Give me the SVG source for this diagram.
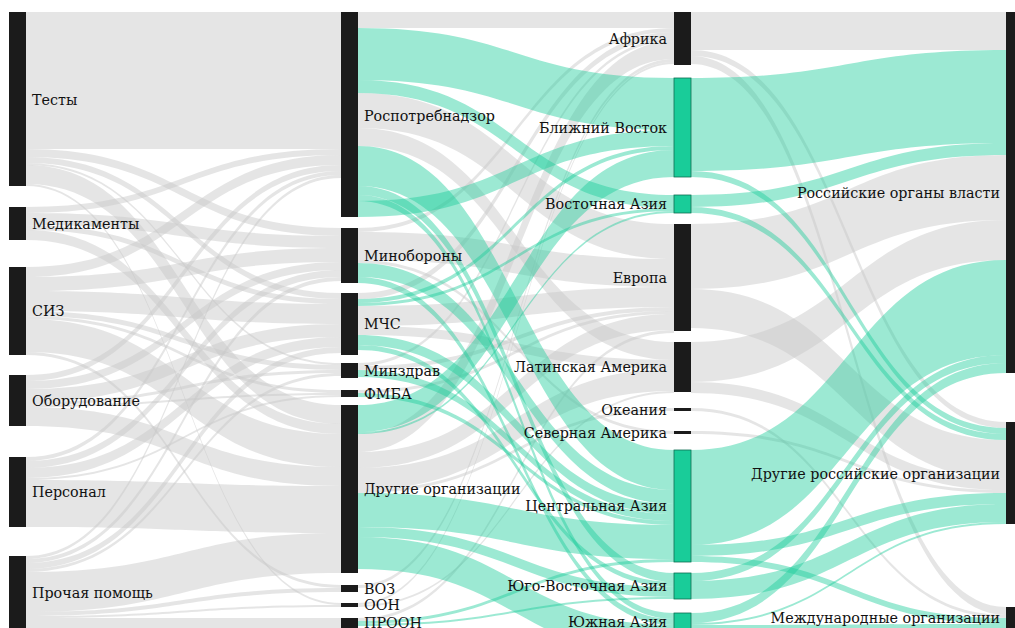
<svg xmlns="http://www.w3.org/2000/svg" width="1015" height="628" viewBox="0 0 1015 628">
<style>
.g{fill:#c8c8c8;fill-opacity:0.47}
.t{fill:#19cc99;fill-opacity:0.43}
.nb{fill:#1b1b1b}
.nt{fill:#19cc99;stroke:#0e6e52;stroke-width:0.8}
.lbl{font-family:'DejaVu Serif',serif;font-size:14.3px;fill:#111}
.r{text-anchor:end}
</style>
<rect width="1015" height="628" fill="#ffffff"/>
<g id="links">
<path class="g" d="M26 12C183.5 12 183.5 12 341 12V149C183.5 149 183.5 149 26 149Z"/>
<path class="g" d="M26 149C183.5 149 183.5 228 341 228V236C183.5 236 183.5 157 26 157Z"/>
<path class="g" d="M26 157C183.5 157 183.5 293 341 293V299C183.5 299 183.5 163 26 163Z"/>
<path class="g" d="M26 163C183.5 163 183.5 363 341 363V365C183.5 365 183.5 165 26 165Z"/>
<path class="g" d="M26 165C183.5 165 183.5 405 341 405V424C183.5 424 183.5 184 26 184Z"/>
<path class="g" d="M26 184C183.5 184 183.5 603 341 603V605C183.5 605 183.5 186 26 186Z"/>
<path class="g" d="M26 207C183.5 207 183.5 149 341 149V155C183.5 155 183.5 213 26 213Z"/>
<path class="g" d="M26 213C183.5 213 183.5 236 341 236V248C183.5 248 183.5 225 26 225Z"/>
<path class="g" d="M26 225C183.5 225 183.5 299 341 299V304C183.5 304 183.5 230 26 230Z"/>
<path class="g" d="M26 230C183.5 230 183.5 424 341 424V434C183.5 434 183.5 240 26 240Z"/>
<path class="g" d="M26 267C183.5 267 183.5 155 341 155V165C183.5 165 183.5 277 26 277Z"/>
<path class="g" d="M26 277C183.5 277 183.5 248 341 248V262C183.5 262 183.5 291 26 291Z"/>
<path class="g" d="M26 291C183.5 291 183.5 304 341 304V324C183.5 324 183.5 311 26 311Z"/>
<path class="g" d="M26 311C183.5 311 183.5 365 341 365V370C183.5 370 183.5 316 26 316Z"/>
<path class="g" d="M26 316C183.5 316 183.5 390 341 390V393C183.5 393 183.5 319 26 319Z"/>
<path class="g" d="M26 319C183.5 319 183.5 434 341 434V467C183.5 467 183.5 352 26 352Z"/>
<path class="g" d="M26 352C183.5 352 183.5 585 341 585V588C183.5 588 183.5 355 26 355Z"/>
<path class="g" d="M26 375C183.5 375 183.5 165 341 165V171C183.5 171 183.5 381 26 381Z"/>
<path class="g" d="M26 381C183.5 381 183.5 262 341 262V270C183.5 270 183.5 389 26 389Z"/>
<path class="g" d="M26 389C183.5 389 183.5 324 341 324V337C183.5 337 183.5 402 26 402Z"/>
<path class="g" d="M26 402C183.5 402 183.5 370 341 370V373C183.5 373 183.5 405 26 405Z"/>
<path class="g" d="M26 405C183.5 405 183.5 393 341 393V395C183.5 395 183.5 407 26 407Z"/>
<path class="g" d="M26 407C183.5 407 183.5 467 341 467V486C183.5 486 183.5 426 26 426Z"/>
<path class="g" d="M26 457C183.5 457 183.5 171 341 171V175C183.5 175 183.5 461 26 461Z"/>
<path class="g" d="M26 461C183.5 461 183.5 270 341 270V277C183.5 277 183.5 468 26 468Z"/>
<path class="g" d="M26 468C183.5 468 183.5 337 341 337V347C183.5 347 183.5 478 26 478Z"/>
<path class="g" d="M26 478C183.5 478 183.5 395 341 395V397C183.5 397 183.5 480 26 480Z"/>
<path class="g" d="M26 480C183.5 480 183.5 486 341 486V533C183.5 533 183.5 527 26 527Z"/>
<path class="g" d="M26 556C183.5 556 183.5 175 341 175V178C183.5 178 183.5 559 26 559Z"/>
<path class="g" d="M26 559C183.5 559 183.5 277 341 277V281C183.5 281 183.5 563 26 563Z"/>
<path class="g" d="M26 563C183.5 563 183.5 347 341 347V353C183.5 353 183.5 569 26 569Z"/>
<path class="g" d="M26 569C183.5 569 183.5 373 341 373V376C183.5 376 183.5 572 26 572Z"/>
<path class="g" d="M26 572C183.5 572 183.5 533 341 533V573C183.5 573 183.5 612 26 612Z"/>
<path class="g" d="M26 612C183.5 612 183.5 588 341 588V592C183.5 592 183.5 616 26 616Z"/>
<path class="g" d="M26 616C183.5 616 183.5 605 341 605V607C183.5 607 183.5 618 26 618Z"/>
<path class="g" d="M26 618C183.5 618 183.5 618 341 618V630C183.5 630 183.5 630 26 630Z"/>

<path class="g" d="M358 12C516 12 516 12 674 12V28C516 28 516 28 358 28Z"/>
<path class="g" d="M358 93C516 93 516 224 674 224V259C516 259 516 128 358 128Z"/>
<path class="g" d="M358 128C516 128 516 342 674 342V360C516 360 516 146 358 146Z"/>
<path class="g" d="M358 228C516 228 516 28 674 28V32C516 32 516 232 358 232Z"/>
<path class="g" d="M358 232C516 232 516 259 674 259V287C516 287 516 260 358 260Z"/>
<path class="g" d="M358 260C516 260 516 431 674 431V434C516 434 516 263 358 263Z"/>
<path class="g" d="M358 293C516 293 516 32 674 32V38C516 38 516 299 358 299Z"/>
<path class="g" d="M358 306C516 306 516 287 674 287V307C516 307 516 326 358 326Z"/>
<path class="g" d="M358 326C516 326 516 360 674 360V369C516 369 516 335 358 335Z"/>
<path class="g" d="M358 363C516 363 516 38 674 38V41C516 41 516 366 358 366Z"/>
<path class="g" d="M358 366C516 366 516 307 674 307V311C516 311 516 370 358 370Z"/>
<path class="g" d="M358 390C516 390 516 311 674 311V314C516 314 516 393 358 393Z"/>
<path class="g" d="M358 434C516 434 516 41 674 41V59C516 59 516 452 358 452Z"/>
<path class="g" d="M358 452C516 452 516 314 674 314V330C516 330 516 468 358 468Z"/>
<path class="g" d="M358 468C516 468 516 369 674 369V391C516 391 516 490 358 490Z"/>
<path class="g" d="M358 490C516 490 516 408 674 408V411C516 411 516 493 358 493Z"/>
<path class="g" d="M358 585C516 585 516 59 674 59V62C516 62 516 588 358 588Z"/>
<path class="g" d="M358 603C516 603 516 62 674 62V64C516 64 516 605 358 605Z"/>
<path class="g" d="M358 605C516 605 516 391 674 391V393C516 393 516 607 358 607Z"/>
<path class="g" d="M358 618C516 618 516 330 674 330V333C516 333 516 621 358 621Z"/>

<path class="t" d="M358 28C516 28 516 78 674 78V130C516 130 516 80 358 80Z"/>
<path class="t" d="M358 80C516 80 516 195 674 195V208C516 208 516 93 358 93Z"/>
<path class="t" d="M358 146C516 146 516 450 674 450V490C516 490 516 186 358 186Z"/>
<path class="t" d="M358 186C516 186 516 573 674 573V582C516 582 516 195 358 195Z"/>
<path class="t" d="M358 195C516 195 516 613 674 613V619C516 619 516 201 358 201Z"/>
<path class="t" d="M358 201C516 201 516 130 674 130V146C516 146 516 217 358 217Z"/>
<path class="t" d="M358 263C516 263 516 490 674 490V504C516 504 516 277 358 277Z"/>
<path class="t" d="M358 277C516 277 516 619 674 619V625C516 625 516 283 358 283Z"/>
<path class="t" d="M358 299C516 299 516 146 674 146V150C516 150 516 303 358 303Z"/>
<path class="t" d="M358 303C516 303 516 208 674 208V211C516 211 516 306 358 306Z"/>
<path class="t" d="M358 335C516 335 516 504 674 504V514C516 514 516 345 358 345Z"/>
<path class="t" d="M358 345C516 345 516 582 674 582V587C516 587 516 350 358 350Z"/>
<path class="t" d="M358 370C516 370 516 514 674 514V521C516 521 516 377 358 377Z"/>
<path class="t" d="M358 393C516 393 516 521 674 521V525C516 525 516 397 358 397Z"/>
<path class="t" d="M358 405C516 405 516 150 674 150V177C516 177 516 432 358 432Z"/>
<path class="t" d="M358 432C516 432 516 211 674 211V213C516 213 516 434 358 434Z"/>
<path class="t" d="M358 493C516 493 516 525 674 525V559C516 559 516 527 358 527Z"/>
<path class="t" d="M358 527C516 527 516 587 674 587V597C516 597 516 537 358 537Z"/>
<path class="t" d="M358 537C516 537 516 625 674 625V657C516 657 516 569 358 569Z"/>
<path class="t" d="M358 621C516 621 516 559 674 559V562C516 562 516 624 358 624Z"/>
<path class="t" d="M358 624C516 624 516 597 674 597V599C516 599 516 626 358 626Z"/>

<path class="g" d="M691 12C848.5 12 848.5 12 1006 12V50C848.5 50 848.5 50 691 50Z"/>
<path class="g" d="M691 50C848.5 50 848.5 422 1006 422V428C848.5 428 848.5 56 691 56Z"/>
<path class="g" d="M691 56C848.5 56 848.5 607 1006 607V615C848.5 615 848.5 64 691 64Z"/>
<path class="g" d="M691 224C848.5 224 848.5 155 1006 155V220C848.5 220 848.5 289 691 289Z"/>
<path class="g" d="M691 289C848.5 289 848.5 440 1006 440V479C848.5 479 848.5 328 691 328Z"/>
<path class="g" d="M691 342C848.5 342 848.5 220 1006 220V260C848.5 260 848.5 382 691 382Z"/>
<path class="g" d="M691 382C848.5 382 848.5 479 1006 479V490C848.5 490 848.5 393 691 393Z"/>
<path class="g" d="M691 408C848.5 408 848.5 615 1006 615V618C848.5 618 848.5 411 691 411Z"/>
<path class="g" d="M691 431C848.5 431 848.5 490 1006 490V493C848.5 493 848.5 434 691 434Z"/>

<path class="t" d="M691 78C848.5 78 848.5 50 1006 50V143C848.5 143 848.5 171 691 171Z"/>
<path class="t" d="M691 171C848.5 171 848.5 428 1006 428V434C848.5 434 848.5 177 691 177Z"/>
<path class="t" d="M691 195C848.5 195 848.5 143 1006 143V155C848.5 155 848.5 207 691 207Z"/>
<path class="t" d="M691 207C848.5 207 848.5 434 1006 434V440C848.5 440 848.5 213 691 213Z"/>
<path class="t" d="M691 450C848.5 450 848.5 260 1006 260V355C848.5 355 848.5 545 691 545Z"/>
<path class="t" d="M691 545C848.5 545 848.5 493 1006 493V504C848.5 504 848.5 556 691 556Z"/>
<path class="t" d="M691 556C848.5 556 848.5 618 1006 618V624C848.5 624 848.5 562 691 562Z"/>
<path class="t" d="M691 573C848.5 573 848.5 355 1006 355V363C848.5 363 848.5 581 691 581Z"/>
<path class="t" d="M691 581C848.5 581 848.5 504 1006 504V522C848.5 522 848.5 599 691 599Z"/>
<path class="t" d="M691 613C848.5 613 848.5 363 1006 363V373C848.5 373 848.5 623 691 623Z"/>
<path class="t" d="M691 623C848.5 623 848.5 522 1006 522V524C848.5 524 848.5 625 691 625Z"/>
<path class="t" d="M691 625C848.5 625 848.5 624 1006 624V632C848.5 632 848.5 633 691 633Z"/>
</g>

<g id="n-testy"><rect class="nb" x="9" y="12" width="17" height="174"/><text class="lbl" x="32" y="105">Тесты</text></g>
<g id="n-medikamenty"><rect class="nb" x="9" y="207" width="17" height="33"/><text class="lbl" x="32" y="229">Медикаменты</text></g>
<g id="n-siz"><rect class="nb" x="9" y="267" width="17" height="88"/><text class="lbl" x="32" y="316">СИЗ</text></g>
<g id="n-oborudovanie"><rect class="nb" x="9" y="375" width="17" height="51"/><text class="lbl" x="32" y="406">Оборудование</text></g>
<g id="n-personal"><rect class="nb" x="9" y="457" width="17" height="70"/><text class="lbl" x="32" y="497">Персонал</text></g>
<g id="n-prochaya"><rect class="nb" x="9" y="556" width="17" height="74"/><text class="lbl" x="32" y="598">Прочая помощь</text></g>

<g id="n-rospotreb"><rect class="nb" x="341" y="12" width="17" height="205"/><text class="lbl" x="364" y="121">Роспотребнадзор</text></g>
<g id="n-minoborony"><rect class="nb" x="341" y="228" width="17" height="55"/><text class="lbl" x="364" y="261">Минобороны</text></g>
<g id="n-mchs"><rect class="nb" x="341" y="293" width="17" height="62"/><text class="lbl" x="364" y="329">МЧС</text></g>
<g id="n-minzdrav"><rect class="nb" x="341" y="363" width="17" height="15"/><text class="lbl" x="364" y="376">Минздрав</text></g>
<g id="n-fmba"><rect class="nb" x="341" y="390" width="17" height="7"/><text class="lbl" x="364" y="399">ФМБА</text></g>
<g id="n-drugie-org"><rect class="nb" x="341" y="405" width="17" height="168"/><text class="lbl" x="364" y="494">Другие организации</text></g>
<g id="n-voz"><rect class="nb" x="341" y="585" width="17" height="7"/><text class="lbl" x="364" y="594">ВОЗ</text></g>
<g id="n-oon"><rect class="nb" x="341" y="603" width="17" height="4"/><text class="lbl" x="364" y="610">ООН</text></g>
<g id="n-proon"><rect class="nb" x="341" y="618" width="17" height="12"/><text class="lbl" x="364" y="628">ПРООН</text></g>

<g id="n-afrika"><rect class="nb" x="674" y="12" width="17" height="53"/><text class="lbl r" x="667" y="44">Африка</text></g>
<g id="n-bv"><rect class="nt" x="674" y="78" width="17" height="99"/><text class="lbl r" x="667" y="133">Ближний Восток</text></g>
<g id="n-va"><rect class="nt" x="674" y="195" width="17" height="18"/><text class="lbl r" x="667" y="209">Восточная Азия</text></g>
<g id="n-evropa"><rect class="nb" x="674" y="224" width="17" height="107"/><text class="lbl r" x="667" y="283">Европа</text></g>
<g id="n-la"><rect class="nb" x="674" y="342" width="17" height="50"/><text class="lbl r" x="667" y="372">Латинская Америка</text></g>
<g id="n-okeania"><rect class="nb" x="674" y="408" width="17" height="3"/><text class="lbl r" x="667" y="415">Океания</text></g>
<g id="n-sa"><rect class="nb" x="674" y="431" width="17" height="3"/><text class="lbl r" x="667" y="438">Северная Америка</text></g>
<g id="n-ca"><rect class="nt" x="674" y="450" width="17" height="112"/><text class="lbl r" x="667" y="511">Центральная Азия</text></g>
<g id="n-uva"><rect class="nt" x="674" y="573" width="17" height="26"/><text class="lbl r" x="667" y="591">Юго-Восточная Азия</text></g>
<g id="n-ua"><rect class="nt" x="674" y="613" width="17" height="44"/><text class="lbl r" x="667" y="627">Южная Азия</text></g>

<g id="n-rov"><rect class="nb" x="1006" y="12" width="17" height="361"/><text class="lbl r" x="1000" y="198">Российские органы власти</text></g>
<g id="n-dro"><rect class="nb" x="1006" y="422" width="17" height="102"/><text class="lbl r" x="1000" y="479">Другие российские организации</text></g>
<g id="n-mo"><rect class="nb" x="1006" y="607" width="17" height="25"/><text class="lbl r" x="1000" y="623">Международные организации</text></g>
</svg>
